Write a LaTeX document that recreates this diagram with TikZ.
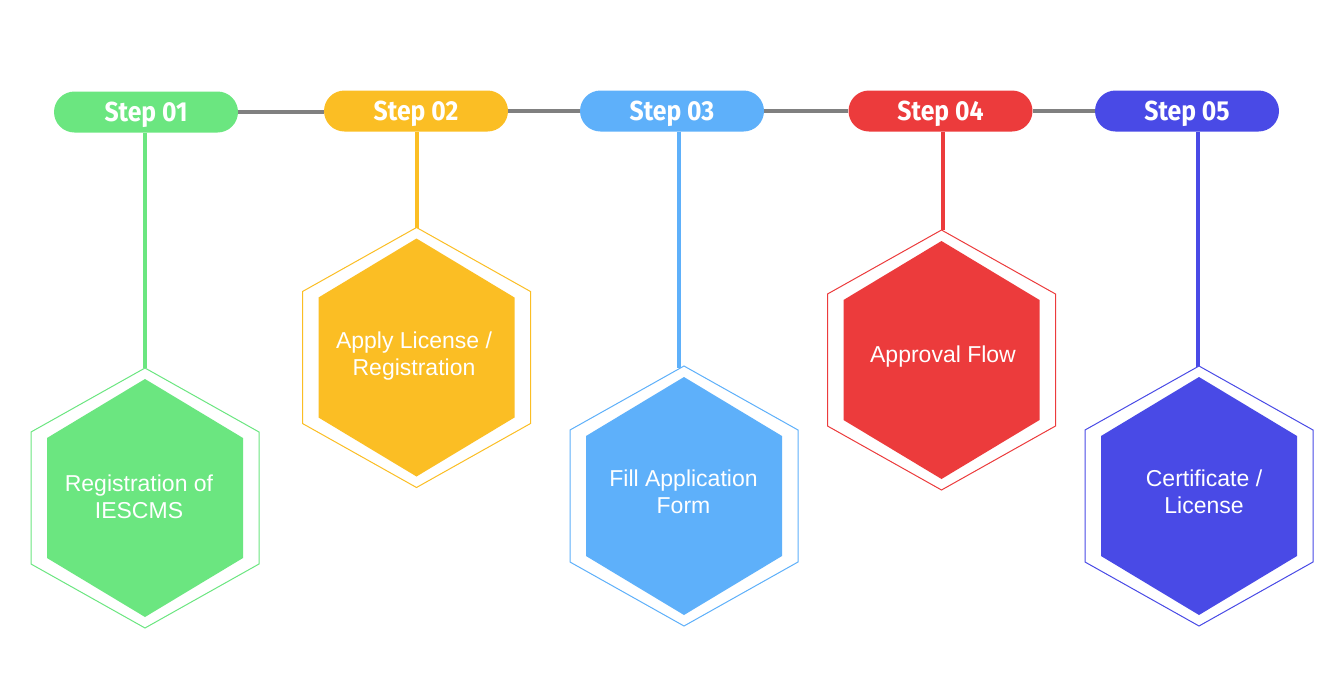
\documentclass[tikz,border=0pt]{standalone}
\usepackage{fontspec}
\setmainfont{Liberation Sans}
\newfontfamily\stepfont[FakeStretch=0.9]{Fira Sans Bold}
\usetikzlibrary{calc}
\definecolor{cA}{RGB}{107,230,128}
\definecolor{cB}{RGB}{251,190,36}
\definecolor{cC}{RGB}{94,176,250}
\definecolor{cD}{RGB}{236,59,60}
\definecolor{cE}{RGB}{73,74,230}
\definecolor{linegray}{RGB}{128,128,128}
\begin{document}
\begin{tikzpicture}[x=1pt,y=-1pt,
  pill/.style={rounded corners=20.5pt, minimum width=184pt, minimum height=41pt,
    inner sep=0pt, text height=19pt, text depth=0pt, text=white,
    font=\stepfont\fontsize{27.5}{29}\selectfont},
  joinline/.style={draw=linegray, line width=4.5pt},
  stemline/.style={line width=4.5pt},
  outerhex/.style={line width=1pt},
  hextext/.style={text=white, align=center, inner sep=0pt,
    font=\fontsize{23}{27}\selectfont}]
\useasboundingbox (0,0) rectangle (1341,694);
% pills
\node[pill, fill=cA] (p1) at (146,112) {Step 01};
\node[pill, fill=cB] (p2) at (416,111) {Step 02};
\node[pill, fill=cC] (p3) at (672,111) {Step 03};
\node[pill, fill=cD] (p4) at (940.5,111) {Step 04};
\node[pill, fill=cE] (p5) at (1187,111) {Step 05};
% joining gray line
\draw[joinline] (p1.east) -- (p2.west |- p1.east);
\draw[joinline] (p2.east) -- (p3.west);
\draw[joinline] (p3.east) -- (p4.west);
\draw[joinline] (p4.east) -- (p5.west);
% hexagon centres and stem ends
\coordinate (h1) at (145,498);
\coordinate (h2) at (416.5,357.5);
\coordinate (h3) at (684,496);
\coordinate (h4) at (941.5,360);
\coordinate (h5) at (1199,496);
\coordinate (s1) at (145,368);
\coordinate (s2) at (417,228);
\coordinate (s3) at (679,368);
\coordinate (s4) at (943,230);
\coordinate (s5) at (1198,367);
% stems
\draw[stemline, cA] (p1.south -| s1) -- (s1);
\draw[stemline, cB] (p2.south -| s2) -- (s2);
\draw[stemline, cC] (p3.south -| s3) -- (s3);
\draw[stemline, cD] (p4.south -| s4) -- (s4);
\draw[stemline, cE] (p5.south -| s5) -- (s5);
% hexagons
\foreach \h/\c in {h1/cA, h2/cB, h3/cC, h4/cD, h5/cE}{
  \begin{scope}[shift={(\h)}]
    \fill[white] (0,-130) -- (114,-66) -- (114,66) -- (0,130) -- (-114,66) -- (-114,-66) -- cycle;
    \draw[outerhex, \c] (0,-130) -- (114,-66) -- (114,66) -- (0,130) -- (-114,66) -- (-114,-66) -- cycle;
    \fill[\c] (0,-119) -- (98,-60) -- (98,60) -- (0,119) -- (-98,60) -- (-98,-60) -- cycle;
  \end{scope}
}
% texts
\node[hextext] (t1) at (139,496.5) {Registration of\\IESCMS};
\node[hextext] (t2) at (414,356.5) {Apply License /\\Registration};
\node[hextext] (t3) at (683.5,491.5) {Fill Application\\Form};
\node[hextext] (t4) at (943,357) {Approval Flow};
\node[hextext] (t5) at (1204,491.5) {Certificate /\\License};
\end{tikzpicture}
\end{document}
